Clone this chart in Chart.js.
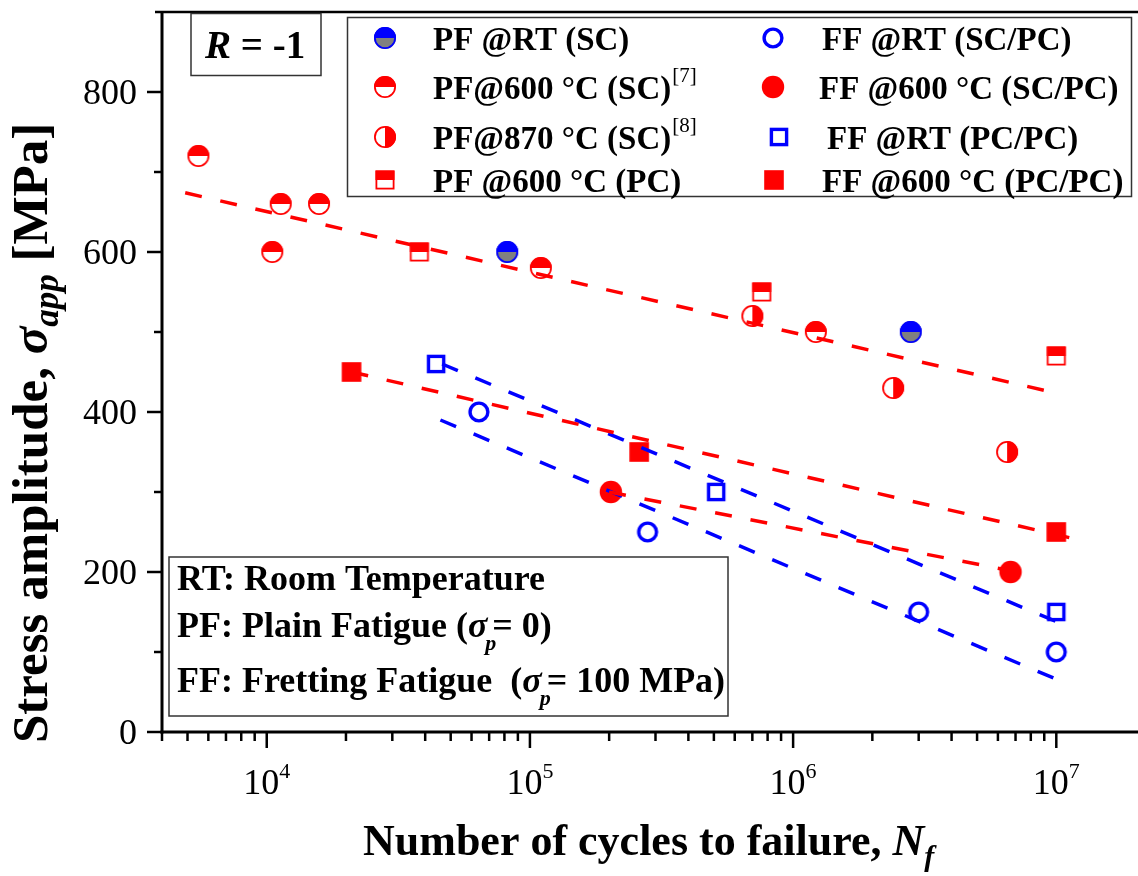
<!DOCTYPE html>
<html>
<head>
<meta charset="utf-8">
<script src="https://cdn.jsdelivr.net/npm/chart.js@4/dist/chart.umd.min.js"></script>
<style>
html, body { margin: 0; padding: 0; background: #fff; overflow: hidden; }
#wrap { width: 1138px; height: 876px; }
</style>
</head>
<body>
<div id="wrap"><canvas id="chart" width="1138" height="876"></canvas></div>
<script>
// cycles to failure (N) and stress amplitude (MPa)
const pfRtScN = [82000, 2.8e6];
const pfRtScS = [600, 500];
const pf600ScN = [5500, 10500, 11300, 15800, 110000, 1.22e6];
const pf600ScS = [720, 600, 660, 660, 580, 500];
const pf870ScN = [7.0e5, 2.4e6, 6.5e6];
const pf870ScS = [520, 430, 350];
const pf600PcN = [38000, 7.6e5, 1e7];
const pf600PcS = [600, 550, 470];
const ffRtScN = [64000, 2.8e5, 3.0e6, 1e7];
const ffRtScS = [400, 250, 150, 100];
const ff600ScN = [2.03e5, 6.7e6];
const ff600ScS = [300, 200];
const ffRtPcN = [44000, 5.1e5, 1e7];
const ffRtPcS = [460, 300, 150];
const ff600PcN = [21000, 2.6e5, 1e7];
const ff600PcS = [450, 350, 250];

// dashed fit lines (end points)
const fitPfN = [4900, 9.6e6];
const fitPfS = [674, 425];
const fitFf600PcN = [21000, 1.12e7];
const fitFf600PcS = [450, 243];
const fitFf600ScN = [2.0e5, 6.6e6];
const fitFf600ScS = [300, 202];
const fitFfRtPcN = [46400, 1e7];
const fitFfRtPcS = [460, 138];
const fitFfRtScN = [45700, 1e7];
const fitFfRtScS = [390, 66];

const yTicks = [0, 200, 400, 600, 800];
const xDecades = [4, 5, 6, 7];

const RED = '#ff0000';
const BLUE = '#0000ff';
const GRAY = '#808080';
const SERIF = '"Liberation Serif", "Times New Roman", serif';

function toPoints(xs, ys) {
    return xs.map((x, i) => ({ x: x, y: ys[i] }));
}

function markerCanvas(draw) {
    const c = document.createElement('canvas');
    c.width = 28;
    c.height = 28;
    const g = c.getContext('2d');
    g.translate(14, 14);
    draw(g);
    return c;
}

function halfCircle(half, other, edge, rightHalf) {
    return markerCanvas(function(g) {
        const r = 11;
        g.fillStyle = other;
        g.beginPath(); g.arc(0, 0, r, 0, Math.PI * 2); g.fill();
        g.fillStyle = half;
        g.beginPath();
        if (rightHalf) g.arc(0, 0, r, -Math.PI / 2, Math.PI / 2);
        else g.arc(0, 0, r, Math.PI, Math.PI * 2);
        g.closePath(); g.fill();
        g.strokeStyle = edge; g.lineWidth = 1.8;
        g.beginPath(); g.arc(0, 0, r - 0.9, 0, Math.PI * 2); g.stroke();
    });
}

const mkPfRt = halfCircle(BLUE, GRAY, BLUE, false);
const mkPf600 = halfCircle(RED, '#fff', RED, false);
const mkPf870 = halfCircle(RED, '#fff', RED, true);
const mkPf600Pc = markerCanvas(function(g) {
    g.fillStyle = '#fff'; g.fillRect(-9.5, -9.5, 19, 19);
    g.fillStyle = RED; g.fillRect(-9.5, -9.5, 19, 9.5);
    g.strokeStyle = RED; g.lineWidth = 1.8; g.strokeRect(-8.6, -8.6, 17.2, 17.2);
});
const mkFfRtSc = markerCanvas(function(g) {
    g.strokeStyle = BLUE; g.lineWidth = 3.4;
    g.beginPath(); g.arc(0, 0, 8.9, 0, Math.PI * 2); g.stroke();
});
const mkFf600Sc = markerCanvas(function(g) {
    g.fillStyle = RED;
    g.beginPath(); g.arc(0, 0, 11.2, 0, Math.PI * 2); g.fill();
});
const mkFfRtPc = markerCanvas(function(g) {
    g.strokeStyle = BLUE; g.lineWidth = 3.4;
    g.strokeRect(-7.6, -7.6, 15.2, 15.2);
});
const mkFf600Pc = markerCanvas(function(g) {
    g.fillStyle = RED; g.fillRect(-9.8, -9.8, 19.6, 19.6);
});

function pointSet(label, xs, ys, marker) {
    return {
        label: label,
        data: toPoints(xs, ys),
        showLine: false,
        pointStyle: marker,
        pointRadius: 11,
        pointHoverRadius: 11,
        order: 2
    };
}

function fitSet(xs, ys, color) {
    return {
        label: '',
        data: toPoints(xs, ys),
        showLine: true,
        borderColor: color,
        borderWidth: 3.5,
        borderDash: [17, 19],
        pointRadius: 0,
        fill: false,
        order: 1
    };
}

const datasets = [
    pointSet('PF @RT (SC)', pfRtScN, pfRtScS, mkPfRt),
    pointSet('PF@600 °C (SC)', pf600ScN, pf600ScS, mkPf600),
    pointSet('PF@870 °C (SC)', pf870ScN, pf870ScS, mkPf870),
    pointSet('PF @600 °C (PC)', pf600PcN, pf600PcS, mkPf600Pc),
    pointSet('FF @RT (SC/PC)', ffRtScN, ffRtScS, mkFfRtSc),
    pointSet('FF @600 °C (SC/PC)', ff600ScN, ff600ScS, mkFf600Sc),
    pointSet('FF @RT (PC/PC)', ffRtPcN, ffRtPcS, mkFfRtPc),
    pointSet('FF @600 °C (PC/PC)', ff600PcN, ff600PcS, mkFf600Pc),
    fitSet(fitPfN, fitPfS, RED),
    fitSet(fitFf600PcN, fitFf600PcS, RED),
    fitSet(fitFf600ScN, fitFf600ScS, RED),
    fitSet(fitFfRtPcN, fitFfRtPcS, BLUE),
    fitSet(fitFfRtScN, fitFfRtScS, BLUE)
];

const legendRefs = { 1: '[7]', 2: '[8]' };

// draws a run of text pieces one after another, returns total width
function richWidth(ctx, parts) {
    let w = 0;
    parts.forEach(function(p) {
        ctx.font = p.f;
        w += ctx.measureText(p.t).width + (p.dx || 0);
    });
    return w;
}

function drawRich(ctx, x, y, parts) {
    let cx = x;
    parts.forEach(function(p) {
        ctx.font = p.f;
        ctx.fillText(p.t, cx, y + (p.dy || 0));
        cx += ctx.measureText(p.t).width + (p.dx || 0);
    });
    return cx - x;
}

const framePlugin = {
    id: 'frame',
    afterDraw: function(chart) {
        const ctx = chart.ctx;
        const xs = chart.scales.x;
        const ys = chart.scales.y;
        const area = chart.chartArea;
        ctx.save();
        ctx.fillStyle = '#000';
        ctx.strokeStyle = '#000';
        ctx.lineCap = 'butt';

        // axis lines
        ctx.lineWidth = 2.5;
        ctx.beginPath(); ctx.moveTo(area.left - 7, area.top); ctx.lineTo(1138, area.top); ctx.stroke();
        ctx.lineWidth = 3;
        ctx.beginPath(); ctx.moveTo(area.left, area.top - 1); ctx.lineTo(area.left, area.bottom + 1.5); ctx.stroke();
        ctx.beginPath(); ctx.moveTo(area.left - 1.5, area.bottom); ctx.lineTo(1138, area.bottom); ctx.stroke();

        // y ticks
        ctx.lineWidth = 2.5;
        for (let v = 0; v < ys.max; v += 100) {
            const py = ys.getPixelForValue(v);
            const len = v % 200 === 0 ? 15 : 8;
            ctx.beginPath(); ctx.moveTo(area.left - len, py); ctx.lineTo(area.left, py); ctx.stroke();
        }
        ctx.font = '36px ' + SERIF;
        ctx.textAlign = 'right';
        ctx.textBaseline = 'alphabetic';
        yTicks.forEach(function(v) {
            ctx.fillText(String(v), 137, ys.getPixelForValue(v) + 12);
        });

        // x ticks
        for (let d = 3; d <= 7; d++) {
            for (let m = 1; m <= 9; m++) {
                const v = m * Math.pow(10, d);
                if (v < xs.min - 1 || v > xs.max) continue;
                const px = xs.getPixelForValue(v);
                const len = m === 1 ? 16 : 9;
                ctx.beginPath(); ctx.moveTo(px, area.bottom); ctx.lineTo(px, area.bottom + len); ctx.stroke();
            }
        }
        ctx.textAlign = 'left';
        xDecades.forEach(function(d) {
            const px = xs.getPixelForValue(Math.pow(10, d));
            const parts = [
                { t: '10', f: '36px ' + SERIF },
                { t: String(d), f: '22px ' + SERIF, dy: -16 }
            ];
            const w = richWidth(ctx, parts);
            drawRich(ctx, px - w / 2, 794, parts);
        });

        // axis titles
        drawRich(ctx, 363, 855, [
            { t: 'Number of cycles to failure, ', f: 'bold 44px ' + SERIF },
            { t: 'N', f: 'italic bold 44px ' + SERIF },
            { t: 'f', f: 'italic bold 30px ' + SERIF, dy: 11 }
        ]);
        ctx.save();
        ctx.translate(47, 743);
        ctx.rotate(-Math.PI / 2);
        drawRich(ctx, 0, 0, [
            { t: 'Stress amplitude, ', f: 'bold 51px ' + SERIF },
            { t: 'σ', f: 'italic bold 51px ' + SERIF },
            { t: 'app', f: 'italic bold 35px ' + SERIF, dy: 11 },
            { t: ' [MPa]', f: 'bold 51px ' + SERIF }
        ]);
        ctx.restore();

        // R = -1 box
        ctx.lineWidth = 1.5;
        ctx.strokeStyle = '#333';
        ctx.strokeRect(191, 13.5, 130, 62);
        drawRich(ctx, 205, 58, [
            { t: 'R', f: 'italic bold 39px ' + SERIF },
            { t: ' = -1', f: 'bold 39px ' + SERIF }
        ]);

        // note box
        ctx.strokeRect(169, 557, 559, 159);
        ctx.font = 'bold 36px ' + SERIF;
        ctx.fillText('RT: Room Temperature', 177, 590);
        drawRich(ctx, 177, 637, [
            { t: 'PF: Plain Fatigue (', f: 'bold 36px ' + SERIF },
            { t: 'σ', f: 'italic bold 36px ' + SERIF, dx: -2 },
            { t: 'p', f: 'italic bold 22px ' + SERIF, dy: 13, dx: -4 },
            { t: '= 0)', f: 'bold 36px ' + SERIF }
        ]);
        drawRich(ctx, 177, 692, [
            { t: 'FF: Fretting Fatigue  (', f: 'bold 36px ' + SERIF },
            { t: 'σ', f: 'italic bold 36px ' + SERIF, dx: -2 },
            { t: 'p', f: 'italic bold 22px ' + SERIF, dy: 13, dx: -4 },
            { t: '= 100 MPa)', f: 'bold 36px ' + SERIF }
        ]);

        // legend
        ctx.strokeRect(347.5, 17.5, 784, 179);
        const rowY = [38, 87, 137, 180];
        const col1 = { mx: 385, tx: 433 };
        const col2mx = [773, 773, 779, 774];
        const col2tx = [822, 819, 827, 822];
        for (let i = 0; i < 8; i++) {
            const ds = chart.data.datasets[i];
            const row = i % 4;
            const mx = i < 4 ? col1.mx : col2mx[row];
            const tx = i < 4 ? col1.tx : col2tx[row];
            const cy = rowY[row];
            ctx.drawImage(ds.pointStyle, mx - 14, cy - 14);
            ctx.font = 'bold 33px ' + SERIF;
            ctx.fillText(ds.label, tx, cy + 11.5);
            if (legendRefs[i]) {
                const w = ctx.measureText(ds.label).width;
                ctx.font = '21px ' + SERIF;
                ctx.fillText(legendRefs[i], tx + w + 1, cy - 5);
            }
        }
        ctx.restore();
    }
};

const chart = new Chart(document.getElementById('chart'), {
    type: 'scatter',
    data: { datasets: datasets },
    options: {
        responsive: false,
        animation: false,
        devicePixelRatio: 1,
        layout: { padding: { left: 162, top: 8, right: 2, bottom: 144 } },
        plugins: {
            legend: { display: false },
            tooltip: { enabled: false }
        },
        scales: {
            x: { type: 'logarithmic', min: 4000, max: 1.84e7, display: false },
            y: { type: 'linear', min: 0, max: 900, display: false }
        }
    },
    plugins: [framePlugin]
});
</script>
</body>
</html>
